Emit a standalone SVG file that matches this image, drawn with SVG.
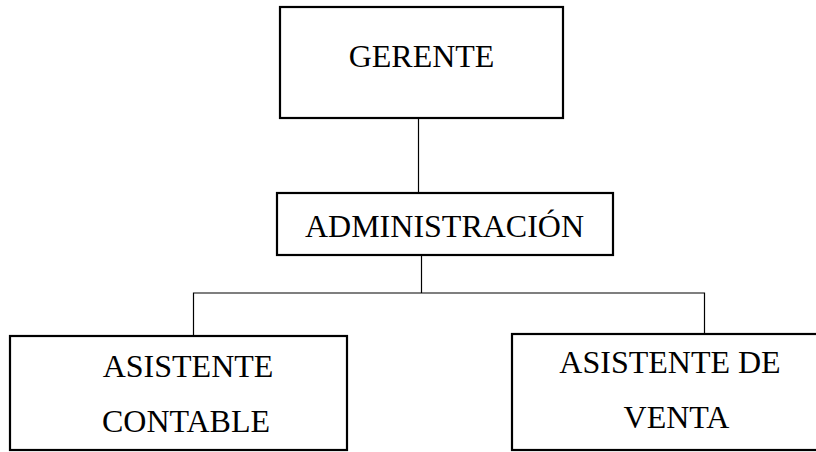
<svg xmlns="http://www.w3.org/2000/svg" width="816" height="452" viewBox="0 0 816 452">
<style>
.box{fill:#fff;stroke:#000;stroke-width:2.2}
.lbl{font-family:"Liberation Serif","Times New Roman",serif;font-size:32px;fill:#000;text-anchor:middle}
.con{stroke:#000;stroke-width:1.2;fill:none}
</style>
<rect width="816" height="452" fill="#fff"/>
<g id="connectors">
<line class="con" x1="418.5" y1="118" x2="418.5" y2="193"/>
<line class="con" x1="421.5" y1="255" x2="421.5" y2="293"/>
<polyline class="con" points="193.5,336 193.5,293 704.5,293 704.5,334"/>
</g>
<g id="gerente">
<rect class="box" x="280" y="7" width="283" height="111"/>
<text class="lbl" x="421.5" y="67">GERENTE</text>
</g>
<g id="administracion">
<rect class="box" x="277" y="193" width="336" height="62"/>
<text class="lbl" x="444.5" y="237">ADMINISTRACIÓN</text>
</g>
<g id="asistente-contable">
<rect class="box" x="10" y="336" width="337" height="114"/>
<text class="lbl" x="188" y="377">ASISTENTE</text>
<text class="lbl" x="186" y="432">CONTABLE</text>
</g>
<g id="asistente-venta">
<rect class="box" x="512" y="334" width="320" height="116"/>
<text class="lbl" x="670" y="373">ASISTENTE DE</text>
<text class="lbl" x="676.5" y="428">VENTA</text>
</g>
</svg>
